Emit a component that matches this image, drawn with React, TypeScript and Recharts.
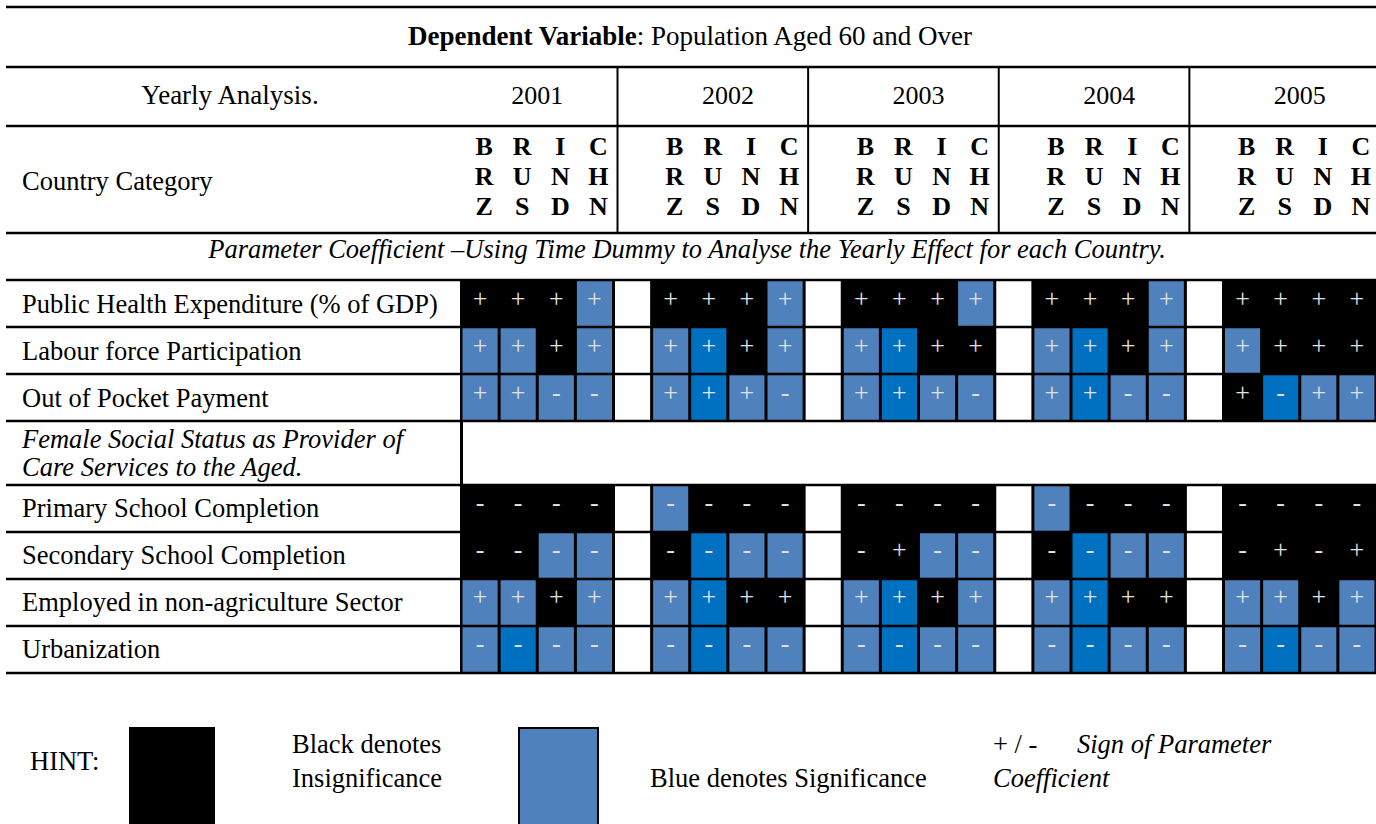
import { ScatterChart, Scatter, XAxis, YAxis, ReferenceArea } from "recharts";

const years = ["2001", "2002", "2003", "2004", "2005"];
const countries = ["BRZ", "RUS", "IND", "CHN"];
const variables = [
  "Public Health Expenditure (% of GDP)",
  "Labour force Participation",
  "Out of Pocket Payment",
  "Primary School Completion",
  "Secondary School Completion",
  "Employed in non-agriculture Sector",
  "Urbanization",
];
const sectionTitle = ["Female Social Status as Provider of", "Care Services to the Aged."];

// K = insignificant (black), B = significant (blue), D = significant (deep blue), then the sign
const results2001 = ["K+ K+ K+ B+", "B+ B+ K+ B+", "B+ B+ B- B-", "K- K- K- K-", "K- K- B- B-", "B+ B+ K+ B+", "B- D- B- B-"];
const results2002 = ["K+ K+ K+ B+", "B+ D+ K+ B+", "B+ D+ B+ B-", "B- K- K- K-", "K- D- B- B-", "B+ D+ K+ K+", "B- D- B- B-"];
const results2003 = ["K+ K+ K+ B+", "B+ D+ K+ K+", "B+ D+ B+ B-", "K- K- K- K-", "K- K+ B- B-", "B+ D+ K+ B+", "B- D- B- B-"];
const results2004 = ["K+ K+ K+ B+", "B+ D+ K+ B+", "B+ D+ B- B-", "B- K- K- K-", "K- D- B- B-", "B+ D+ K+ K+", "B- D- B- B-"];
const results2005 = ["K+ K+ K+ K+", "B+ K+ K+ K+", "K+ D- B+ B+", "K- K- K- K-", "K- K+ K- K+", "B+ B+ K+ B+", "B- D- B- B-"];
const results = [results2001, results2002, results2003, results2004, results2005];

const COLORS: Record<string, string> = { K: "#000000", B: "#4F81BD", D: "#0070C0" };
const FONT = "'Liberation Serif', 'Times New Roman', serif";

// layout
const W = 1376;
const H = 824;
const PLOT = { left: 461, top: 280, right: 1376, bottom: 673 };
const PER_YEAR = countries.length + 1;
const X_MAX = years.length * PER_YEAR - 1.5;
const FEMALE_H = 1.36;
const ROW_SPAN = variables.length + FEMALE_H;
const SLOT = (PLOT.right - PLOT.left) / (X_MAX + 0.5);
const UNIT = (PLOT.bottom - PLOT.top) / ROW_SPAN;
const SECTION_AT = 3;

const rowTop = (i: number) => i + (i >= SECTION_AT ? FEMALE_H : 0);
const xPx = (u: number) => PLOT.left + (u + 0.5) * SLOT;
const yPx = (u: number) => PLOT.top + u * UNIT;

const cells = years.flatMap((_, yi) =>
  results[yi].flatMap((row, ri) =>
    row.split(" ").map((code, ci) => ({
      x: yi * PER_YEAR + ci,
      y: rowTop(ri) + 0.5,
      level: code[0],
      sign: code[1],
      country: countries[ci],
    }))
  )
);

const gaps = years.slice(0, -1).flatMap((_, yi) =>
  variables.map((_, ri) => ({ x: yi * PER_YEAR + countries.length, y: rowTop(ri) + 0.5 }))
);

const rowTicks = [
  ...variables.map((label, i) => ({ value: rowTop(i) + 0.5, lines: [label], italic: false })),
  { value: SECTION_AT + FEMALE_H / 2, lines: sectionTitle, italic: true },
];

const countryTicks = cells.filter((c) => c.y === 0.5).map((c) => c.x);
const yearCenter = (yi: number) => yi * PER_YEAR + (countries.length - 1) / 2;

const rowBounds = [0, 1, 2, 3, 3 + FEMALE_H, 4 + FEMALE_H, 5 + FEMALE_H, 6 + FEMALE_H, ROW_SPAN];
const headerLines = [7, 67, 126, 233];
const yearSeparators = years.slice(0, -1).map((_, yi) => xPx(yi * PER_YEAR + countries.length - 0.5) + 4);

function CellShape(props: any) {
  const { cx, cy, payload } = props;
  const top = cy - UNIT / 2;
  return (
    <g>
      <rect x={cx - SLOT / 2 + 1.5} y={top + 1} width={SLOT - 3} height={UNIT - 2} fill={COLORS[payload.level]} />
      <text
        x={cx}
        y={top + 18}
        textAnchor="middle"
        dominantBaseline="central"
        fontFamily={FONT}
        fontSize={26}
        fill="#e2e2e2"
      >
        {payload.sign}
      </text>
    </g>
  );
}

function GapShape(props: any) {
  const { cx, cy } = props;
  return <rect x={cx - SLOT / 2 + 1.5} y={cy - UNIT / 2 + 1} width={SLOT - 3} height={UNIT - 2} fill="#fff" />;
}

function RowLabel(props: any) {
  const { y, payload } = props;
  const t = rowTicks.find((r) => Math.abs(r.value - payload.value) < 1e-6);
  if (!t) return null;
  const n = t.lines.length;
  return (
    <text x={22} y={y + 9 - ((n - 1) * 28) / 2} fontFamily={FONT} fontSize={26.5} fill="#000" fontStyle={t.italic ? "italic" : "normal"}>
      {t.lines.map((line, i) => (
        <tspan key={i} x={22} dy={i === 0 ? 0 : 28}>
          {line}
        </tspan>
      ))}
    </text>
  );
}

function CountryTick(props: any) {
  const { x, payload } = props;
  const code = countries[Math.round(payload.value) % PER_YEAR];
  if (!code) return null;
  return (
    <g>
      {code.split("").map((ch, i) => (
        <text key={i} x={x + 4} y={155 + i * 30} textAnchor="middle" fontFamily={FONT} fontWeight="bold" fontSize={26} fill="#000">
          {ch}
        </text>
      ))}
    </g>
  );
}

export default function App() {
  return (
    <div style={{ position: "absolute", left: 0, top: 0, width: W, height: H, background: "#fff", overflow: "hidden" }}>
      <ScatterChart width={W} height={H} margin={{ top: 0, right: W - PLOT.right, bottom: H - PLOT.bottom, left: 0 }}>
        <XAxis
          xAxisId="cells"
          type="number"
          dataKey="x"
          domain={[-0.5, X_MAX]}
          orientation="top"
          height={PLOT.top}
          ticks={countryTicks}
          interval={0}
          axisLine={false}
          tickLine={false}
          tick={<CountryTick />}
        />
        <YAxis
          type="number"
          dataKey="y"
          domain={[0, ROW_SPAN]}
          reversed
          width={PLOT.left}
          ticks={rowTicks.map((r) => r.value)}
          interval={0}
          axisLine={false}
          tickLine={false}
          tick={<RowLabel />}
        />
        <ReferenceArea xAxisId="cells" x1={-0.5} x2={X_MAX} y1={0} y2={ROW_SPAN} fill="#000" fillOpacity={1} stroke="none" />
        <ReferenceArea
          xAxisId="cells"
          x1={-0.5 + 2 / SLOT}
          x2={X_MAX}
          y1={SECTION_AT + 1 / UNIT}
          y2={SECTION_AT + FEMALE_H - 1 / UNIT}
          fill="#fff"
          fillOpacity={1}
          stroke="none"
        />
        <Scatter xAxisId="cells" data={gaps} shape={<GapShape />} isAnimationActive={false} />
        <Scatter xAxisId="cells" data={cells} shape={<CellShape />} isAnimationActive={false} />
      </ScatterChart>

      <svg width={W} height={H} style={{ position: "absolute", left: 0, top: 0, pointerEvents: "none" }}>
        {headerLines.map((y) => (
          <line key={y} x1={6} x2={W} y1={y} y2={y} stroke="#000" strokeWidth={2.5} />
        ))}
        {rowBounds.map((u) => (
          <line key={u} x1={6} x2={W} y1={yPx(u)} y2={yPx(u)} stroke="#000" strokeWidth={2.5} />
        ))}
        <line x1={PLOT.left} x2={PLOT.left} y1={PLOT.top} y2={PLOT.bottom} stroke="#000" strokeWidth={2} />
        {yearSeparators.map((x) => (
          <line key={x} x1={x} x2={x} y1={67} y2={233} stroke="#000" strokeWidth={2} />
        ))}

        <g fontFamily={FONT} fill="#000">
          <text x={690} y={45} textAnchor="middle" fontSize={27}>
            <tspan fontWeight="bold">Dependent Variable</tspan>: Population Aged 60 and Over
          </text>
          <text x={230} y={104} textAnchor="middle" fontSize={27}>
            Yearly Analysis.
          </text>
          {years.map((yr, yi) => (
            <text key={yr} x={xPx(yearCenter(yi))} y={104} textAnchor="middle" fontSize={26}>
              {yr}
            </text>
          ))}
          <text x={22} y={190} fontSize={26.5}>
            Country Category
          </text>
          <text x={687} y={258} textAnchor="middle" fontSize={26.5} fontStyle="italic">
            Parameter Coefficient –Using Time Dummy to Analyse the Yearly Effect for each Country.
          </text>

          <text x={30} y={770} fontSize={26.5}>
            HINT:
          </text>
          <rect x={129} y={727} width={86} height={100} fill="#000" />
          <text x={292} y={753} fontSize={26.5}>
            Black denotes
          </text>
          <text x={292} y={787} fontSize={26.5}>
            Insignificance
          </text>
          <rect x={519} y={728} width={79} height={100} fill="#4F81BD" stroke="#000" strokeWidth={2} />
          <text x={650} y={787} fontSize={26.5}>
            Blue denotes Significance
          </text>
          <text x={993} y={753} fontSize={26.5}>
            + / -
          </text>
          <text x={1077} y={753} fontSize={26.5} fontStyle="italic">
            Sign of  Parameter
          </text>
          <text x={993} y={787} fontSize={26.5} fontStyle="italic">
            Coefficient
          </text>
        </g>
      </svg>
    </div>
  );
}
